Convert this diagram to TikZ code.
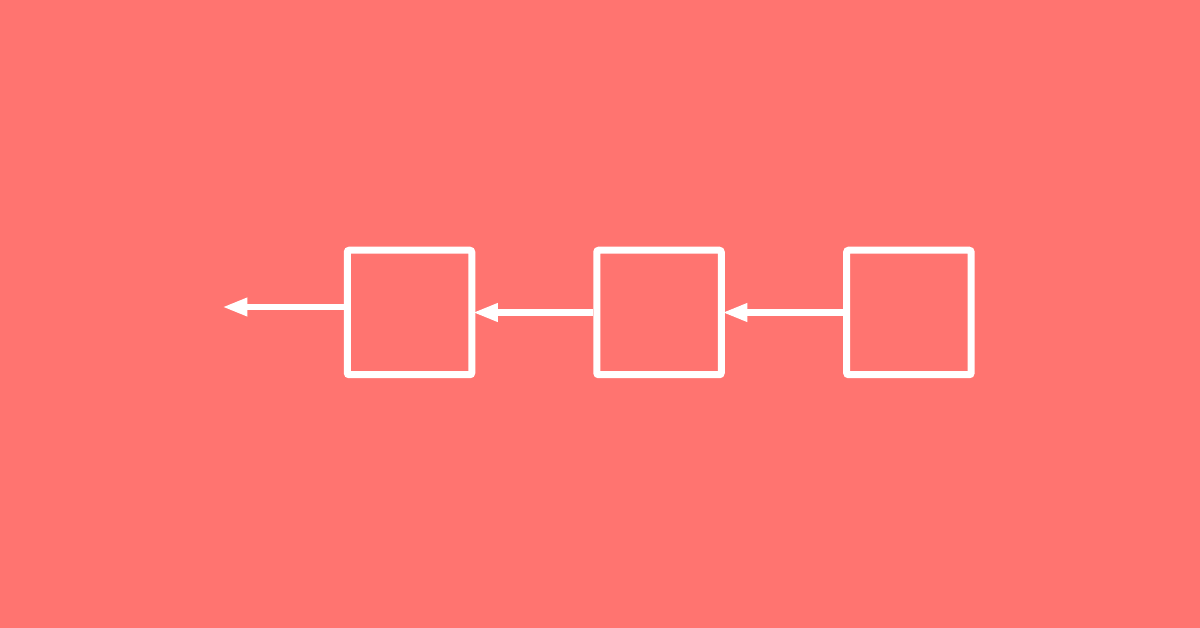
\documentclass[tikz,border=0pt]{standalone}
\usetikzlibrary{arrows.meta}
\definecolor{bg}{RGB}{255,116,112}
\tikzset{
  blockbox/.style={draw=white, line width=7pt, rounded corners=2pt, minimum size=124.5pt, inner sep=0pt},
  link/.style={draw=white, line width=6.5pt, shorten >=-2.5pt, -{Triangle[length=25pt,width=17pt]}}
}
\begin{document}
\begin{tikzpicture}[x=1pt,y=-1pt]
\fill[bg] (0,0) rectangle (1200,628);
\useasboundingbox (0,0) rectangle (1200,628);
\node[blockbox] (b1) at (409.5,312.5) {};
\node[blockbox] (b2) at (659,312.5) {};
\node[blockbox] (b3) at (908.9,312.5) {};
\coordinate (out) at (224.8,307);
\draw[link] (b3.west) -- (b2.east);
\draw[link] (b2.west) -- (b1.east);
\draw[link] ([yshift=5.5pt]b1.west) -- (out);
\end{tikzpicture}
\end{document}
